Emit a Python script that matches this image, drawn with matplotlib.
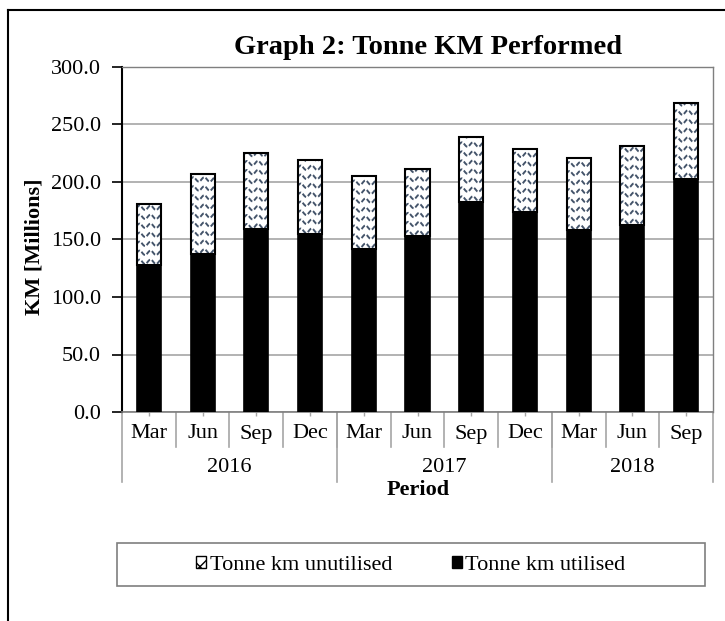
import numpy as np
import matplotlib
matplotlib.use("Agg")
import matplotlib.pyplot as plt
from matplotlib.patches import Rectangle, Patch
from matplotlib.lines import Line2D
import matplotlib.transforms as mtransforms

plt.rcParams['font.family'] = ['Liberation Serif', 'DejaVu Serif']

months = ['Mar', 'Jun', 'Sep', 'Dec', 'Mar', 'Jun', 'Sep', 'Dec', 'Mar', 'Jun', 'Sep']
years = ['2016', '2017', '2018']
year_counts = [4, 4, 3]
utilised = [128, 137, 159, 155, 142, 153, 183, 174, 158, 163, 203]
unutilised = [53, 70, 66, 64, 63, 58, 56, 55, 63, 68, 66]

FS = 16
WAVE = '#44546A'
GRID = '#A6A6A6'

fig = plt.figure(figsize=(7.25, 6.21), dpi=100)
ax = fig.add_axes([122 / 725, 1 - 412 / 621, 591 / 725, 345 / 621])

x = np.arange(len(months))
bw = 0.45
ax.bar(x, utilised, bw, color='black', edgecolor='black', linewidth=1.2, zorder=3)
top_bars = ax.bar(x, unutilised, bw, bottom=utilised, color='white',
                  edgecolor='black', linewidth=1.5, zorder=3)

ax.set_xlim(-0.5, len(months) - 0.5)
ax.set_ylim(0, 300)

# wavy fill for the unutilised bars, sized in pixels
px_x = 591 / len(months)
px_y = 345 / 300
for rect in top_bars:
    x0 = rect.get_x()
    y0 = rect.get_y()
    w = rect.get_width()
    h = rect.get_height()
    per = 11 / px_x
    amp = 2.2 / px_y
    xs = np.linspace(x0 - per, x0 + w + per, 80)
    for ry in np.arange(y0 + 3 / px_y, y0 + h + 9 / px_y, 9 / px_y):
        ys = ry + amp * np.sin(2 * np.pi * (xs - x0) / per)
        ln = ax.plot(xs, ys, color=WAVE, lw=1.4, zorder=4, ls=(0, (2.5, 1)))[0]
        ln.set_clip_path(rect)
    rect.set_zorder(5)
    rect.set_facecolor('none')
    ax.add_patch(Rectangle((x0, y0), w, h, facecolor='white', edgecolor='none', zorder=3))

ax.set_yticks(np.arange(0, 301, 50))
ax.set_yticklabels([f'{v:.1f}' for v in np.arange(0, 301, 50)], fontsize=FS)
ax.yaxis.grid(True, color=GRID, lw=1.2, zorder=0)
ax.set_axisbelow(True)
ax.tick_params(axis='y', length=7, width=1.2, direction='out', pad=8, color='black')
ax.set_xticks(x)
ax.set_xticklabels([])
ax.tick_params(axis='x', length=3, width=1, color=GRID)

for s in ['top', 'right']:
    ax.spines[s].set_color('#7F7F7F')
    ax.spines[s].set_linewidth(1.0)
ax.spines['left'].set_color('black')
ax.spines['left'].set_linewidth(1.5)
ax.spines['bottom'].set_color('#7F7F7F')
ax.spines['bottom'].set_linewidth(1.2)

# multi-level category axis
trans = mtransforms.blended_transform_factory(ax.transData, ax.transAxes)
ah = 345
for i, m in enumerate(months):
    ax.text(i, -22 / ah, m, transform=trans, ha='center', va='center', fontsize=FS)
for k in range(1, len(months)):
    ax.plot([k - 0.5, k - 0.5], [0, -35 / ah], transform=trans, color=GRID,
            lw=1.2, clip_on=False)
start = 0
bounds = [-0.5]
for yr, n in zip(years, year_counts):
    ax.text(start + (n - 1) / 2, -56 / ah, yr, transform=trans, ha='center',
            va='center', fontsize=FS)
    start += n
    bounds.append(start - 0.5)
for b in bounds:
    ax.plot([b, b], [0, -70 / ah], transform=trans, color=GRID, lw=1.2, clip_on=False)

fig.text(418 / 725, 1 - 490 / 621, 'Period', ha='center', va='center',
         fontsize=FS, fontweight='bold')
fig.text(34 / 725, 1 - 247 / 621, 'KM [Millions]', ha='center', va='center',
         rotation=90, fontsize=FS, fontweight='bold')
fig.text(428 / 725, 1 - 47 / 621, 'Graph 2: Tonne KM Performed', ha='center',
         va='center', fontsize=20.5, fontweight='bold')

# legend box
fig.patches.append(Rectangle((117 / 725, 1 - 586 / 621), 588 / 725, 43 / 621,
                             transform=fig.transFigure, facecolor='white',
                             edgecolor='#7F7F7F', lw=1.2))
handles = [Patch(facecolor='white', edgecolor='black', hatch='xx', lw=1),
           Patch(facecolor='black', edgecolor='black')]
fig.legend(handles, ['Tonne km unutilised', 'Tonne km utilised'], ncol=2,
           loc='center', bbox_to_anchor=(411 / 725, 1 - 565 / 621),
           frameon=False, fontsize=FS, handlelength=0.45, handleheight=0.45,
           handletextpad=0.15, columnspacing=2.7)

# outer chart border (cropped)
fig.add_artist(Line2D([8 / 725, 8 / 725], [0, 1 - 10 / 621], transform=fig.transFigure,
                      color='black', lw=1.5))
fig.add_artist(Line2D([8 / 725, 1], [1 - 10 / 621, 1 - 10 / 621], transform=fig.transFigure,
                      color='black', lw=1.5))

fig.savefig('out.png', dpi=100)
